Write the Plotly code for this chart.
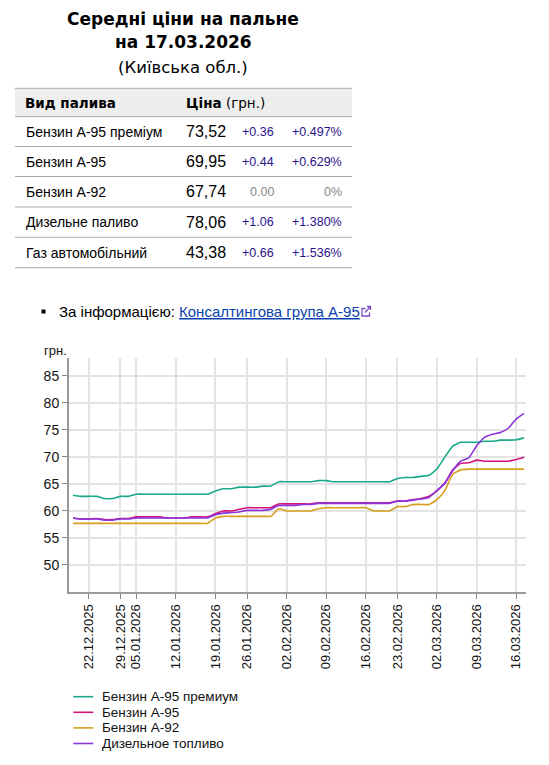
import plotly.graph_objects as go

# ---------------- data ----------------
dates = [
    "18.12.2025", "19.12.2025",
    "22.12.2025", "23.12.2025", "24.12.2025", "26.12.2025",
    "29.12.2025", "30.12.2025",
    "05.01.2026", "06.01.2026", "07.01.2026", "08.01.2026", "09.01.2026",
    "12.01.2026", "13.01.2026", "14.01.2026", "15.01.2026", "16.01.2026",
    "19.01.2026", "20.01.2026", "21.01.2026", "22.01.2026",
    "26.01.2026", "27.01.2026", "28.01.2026", "29.01.2026", "30.01.2026",
    "02.02.2026", "03.02.2026", "04.02.2026", "05.02.2026", "06.02.2026",
    "09.02.2026", "10.02.2026", "11.02.2026", "12.02.2026", "13.02.2026",
    "16.02.2026", "17.02.2026", "18.02.2026", "19.02.2026",
    "23.02.2026", "24.02.2026", "25.02.2026", "26.02.2026", "27.02.2026",
    "02.03.2026", "03.03.2026", "04.03.2026", "05.03.2026", "06.03.2026",
    "09.03.2026", "10.03.2026", "11.03.2026", "12.03.2026", "13.03.2026",
    "16.03.2026", "17.03.2026",
]

tick_labels = ["22.12.2025", "29.12.2025", "05.01.2026", "12.01.2026", "19.01.2026",
               "26.01.2026", "02.02.2026", "09.02.2026", "16.02.2026", "23.02.2026",
               "02.03.2026", "09.03.2026", "16.03.2026"]

premium_a95 = [62.9, 62.7, 62.7, 62.7, 62.3, 62.3, 62.7, 62.7,
               63.1, 63.1, 63.1, 63.1, 63.1, 63.1, 63.1, 63.1, 63.1, 63.1,
               63.7, 64.1, 64.1, 64.4, 64.4, 64.4, 64.6, 64.6,
               65.4, 65.4, 65.4, 65.4, 65.4, 65.6, 65.6,
               65.4, 65.4, 65.4, 65.4, 65.4, 65.4, 65.4, 65.4,
               66.0, 66.2, 66.2, 66.4, 66.6,
               67.8, 70.0, 72.0, 72.7, 72.7, 72.7, 72.9, 72.9, 73.1, 73.1, 73.16, 73.52]

benzin_a95 = [58.7, 58.5, 58.5, 58.6, 58.4, 58.4, 58.6, 58.6,
              58.9, 58.9, 58.9, 58.9, 58.7, 58.7, 58.7, 58.9, 58.9, 58.9,
              59.5, 60.0, 60.0, 60.3, 60.6, 60.6, 60.6, 60.6,
              61.3, 61.3, 61.3, 61.3, 61.3,
              61.5, 61.5, 61.5, 61.5, 61.5, 61.5, 61.5, 61.5, 61.5, 61.5,
              61.85, 61.85, 62.1, 62.3, 62.7,
              63.7, 65.2, 67.6, 68.8, 68.9, 69.4, 69.2, 69.2, 69.2, 69.2, 69.51, 69.95]

benzin_a92 = [57.7] * 18 + [58.7] + [59.0] * 7 + [60.4] + [60.0] * 4 + [60.4] + [60.6] * 6 \
             + [60.0] * 3 + [60.8, 60.8] + [61.2] * 3 + [62.1, 63.8, 66.8, 67.6] + [67.74] * 8

diesel = [58.7, 58.5, 58.5, 58.5, 58.3, 58.3, 58.5, 58.5,
          58.7, 58.7, 58.7, 58.7, 58.7, 58.7, 58.7, 58.7, 58.7, 58.7,
          59.3, 59.6, 59.7, 59.8, 60.1, 60.1, 60.1, 60.3,
          61.0, 61.0, 61.0, 61.2, 61.2,
          61.4, 61.4, 61.4, 61.4, 61.4, 61.4, 61.4, 61.4, 61.4, 61.4,
          61.8, 61.8, 62.0, 62.2, 62.5,
          63.8, 65.1, 67.5, 69.2, 69.8, 72.0, 73.6, 74.2, 74.5, 75.3, 77.0, 78.06]

series_names = ["Бензин А-95 премиум", "Бензин А-95", "Бензин А-92", "Дизельное топливо"]
series_values = [premium_a95, benzin_a95, benzin_a92, diesel]
series_colors = ["#1aa98a", "#d3147b", "#d6a01e", "#8a35dc"]

y_ticks = [50, 55, 60, 65, 70, 75, 80, 85]

# table data
table_fuels = ["Бензин А-95 преміум", "Бензин А-95", "Бензин А-92", "Дизельне паливо", "Газ автомобільний"]
table_prices = ["73,52", "69,95", "67,74", "78,06", "43,38"]
table_changes = ["+0.36", "+0.44", "0.00", "+1.06", "+0.66"]
table_pcts = ["+0.497%", "+0.629%", "0%", "+1.380%", "+1.536%"]

# ---------------- layout helpers (page pixel -> paper) ----------------
OFF = 8                       # page body margin in the browser
W, H = 549 - 2 * OFF, 765 - 2 * OFF
PLOT_X0, PLOT_X1, PLOT_Y0, PLOT_Y1 = 69, 526, 358, 592   # plot area in page pixels
L, R = PLOT_X0 - OFF, W - (PLOT_X1 - OFF)
T, B = PLOT_Y0 - OFF, H - (PLOT_Y1 - OFF)
PW, PH = W - L - R, H - T - B


def px(x):
    return (x - OFF - L) / PW


def py(y):
    return (H - B - (y - OFF)) / PH


SANS = "Liberation Sans, Arial, sans-serif"
VERD = "DejaVu Sans, Verdana, sans-serif"

fig = go.Figure()
for name, vals, col in zip(series_names, series_values, series_colors):
    fig.add_trace(go.Scatter(x=dates, y=vals, name=name, mode="lines",
                             line=dict(color=col, width=1.6, shape="spline", smoothing=0.5),
                             showlegend=False))

annotations = []
shapes = []


def ann(text, x, y, size, family=SANS, color="#000", xanchor="left", yanchor="middle"):
    annotations.append(dict(text=text, x=px(x), y=py(y), xref="paper", yref="paper",
                            showarrow=False, xanchor=xanchor, yanchor=yanchor,
                            font=dict(size=size, family=family, color=color), borderpad=0))


def hline(x0, x1, y, color="#aaaaaa", width=1):
    shapes.append(dict(type="line", xref="paper", yref="paper", x0=px(x0), x1=px(x1),
                       y0=py(y), y1=py(y), line=dict(color=color, width=width)))


# title
ann("<b>Середні ціни на пальне</b>", 183, 19, 17, VERD, xanchor="center")
ann("<b>на 17.03.2026</b>", 183, 42, 17, VERD, xanchor="center")
ann("(Київська обл.)", 183, 67, 16.5, VERD, xanchor="center")

# table
tx0, tx1 = 15, 352
shapes.append(dict(type="rect", xref="paper", yref="paper", x0=px(tx0), x1=px(tx1),
                   y0=py(88.3), y1=py(116.7), fillcolor="#eeeeee", line=dict(width=0), layer="below"))
row_lines = [88.3, 116.7, 146.5, 176.5, 207, 237.3, 267.7]
for yy in row_lines:
    hline(tx0, tx1, yy)
ann("<b>Вид палива</b>", 24, 103, 13.5, VERD)
ann("<b>Ціна</b> (грн.)", 184.5, 103, 13.5, VERD)
for k in range(len(table_fuels)):
    yc = (row_lines[k + 1] + row_lines[k + 2]) / 2
    ann(table_fuels[k], 24.5, yc, 14, SANS)
    ann(table_prices[k], 184.5, yc, 16, SANS)
    chg_col = "#888888" if table_changes[k] == "0.00" else "#2a128a"
    ann(table_changes[k], 275, yc, 12.5, SANS, color=chg_col, xanchor="right")
    ann(table_pcts[k], 343, yc, 12.5, SANS, color=chg_col, xanchor="right")

# source line
shapes.append(dict(type="rect", xref="paper", yref="paper", x0=px(41.5), x1=px(45.5),
                   y0=py(309.5), y1=py(313.5), fillcolor="#000", line=dict(width=0)))
ann("За інформацією: <span style='color:#0b3fae'><u>Консалтингова група А-95</u></span>",
    57.5, 311.5, 15, SANS)
# external link icon
icol = "#7a4bc0"
shapes.append(dict(type="path", xref="paper", yref="paper",
                   path=f"M{px(365.5)},{py(308.5)} L{px(362)},{py(308.5)} L{px(362)},{py(316)} "
                        f"L{px(369.5)},{py(316)} L{px(369.5)},{py(312.5)}",
                   line=dict(color=icol, width=1.3)))
shapes.append(dict(type="path", xref="paper", yref="paper",
                   path=f"M{px(365)},{py(312.5)} L{px(370.5)},{py(306.5)} M{px(367)},{py(306.5)} "
                        f"L{px(370.5)},{py(306.5)} L{px(370.5)},{py(310)}",
                   line=dict(color=icol, width=1.3)))

# unit label
ann("грн.", 43, 350, 13, SANS, color="#111")

# manual legend
for k, (name, col) in enumerate(zip(series_names, series_colors)):
    yy = 696.7 + k * 15.6
    shapes.append(dict(type="line", xref="paper", yref="paper", x0=px(73.3), x1=px(93.3),
                       y0=py(yy), y1=py(yy), line=dict(color=col, width=1.6)))
    ann(name, 100.5, yy, 13.5, SANS, color="#111")

fig.update_layout(
    width=W, height=H,
    margin=dict(l=L, r=R, t=T, b=B, pad=0),
    paper_bgcolor="white", plot_bgcolor="white",
    font=dict(family=SANS, size=13, color="#111"),
    showlegend=False,
    annotations=annotations,
    shapes=shapes,
    xaxis=dict(type="category", range=[-0.5, 57.25], tickmode="array",
               tickvals=tick_labels, ticktext=tick_labels, tickangle=-90,
               tickfont=dict(size=13, family=SANS, color="#111"),
               showgrid=True, gridcolor="#e3e3e3", gridwidth=1.5,
               showline=True, linecolor="#999999", linewidth=2,
               ticks="outside", ticklen=5, tickcolor="#888888", tickwidth=1.3,
               zeroline=False, fixedrange=True),
    yaxis=dict(range=[45, 88.3], tickmode="array", tickvals=y_ticks,
               tickfont=dict(size=14, family=SANS, color="#111"),
               showgrid=True, gridcolor="#e3e3e3", gridwidth=1.5,
               showline=True, linecolor="#999999", linewidth=2,
               ticks="outside", ticklen=5, tickcolor="#888888", tickwidth=1.3,
               zeroline=False, fixedrange=True),
)

fig.write_html("out.html", config={"displayModeBar": False})
